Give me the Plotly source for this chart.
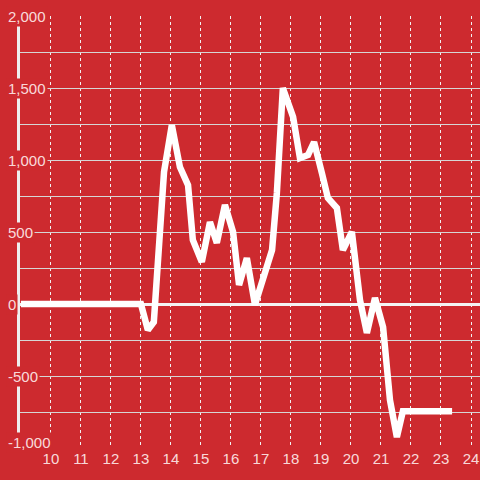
import plotly.graph_objects as go

# Data
x_vals = [9, 13.0, 13.23, 13.43, 13.77, 14.03, 14.3, 14.57, 14.73, 15.03, 15.3, 15.53,
          15.8, 16.07, 16.27, 16.53, 16.8, 17.07, 17.37, 17.53, 17.73, 18.07, 18.3,
          18.57, 18.77, 19.03, 19.23, 19.53, 19.73, 20.03, 20.3, 20.53, 20.8, 21.07,
          21.3, 21.53, 21.73, 23.37]
y_vals = [0, 0, -180, -125, 917, 1243, 951, 826, 444, 292, 569, 424,
          688, 500, 132, 319, -5, 167, 375, 771, 1500, 1299, 1014,
          1035, 1125, 910, 736, 667, 375, 500, 28, -201, 42, -160,
          -667, -924, -745, -745]

x_ticks = [10, 11, 12, 13, 14, 15, 16, 17, 18, 19, 20, 21, 22, 23, 24]
y_ticks = [-1000, -500, 0, 500, 1000, 1500, 2000]
y_tick_labels = ["-1,000", "-500", "0", "500", "1,000", "1,500", "2,000"]

BG = "#cd2a2f"
TXT = "rgba(255,240,240,0.9)"

fig = go.Figure()
fig.add_trace(go.Scatter(
    x=x_vals, y=y_vals, mode="lines",
    line=dict(color="#ffffff", width=6.5),
    hoverinfo="skip", showlegend=False,
))

annotations = []
for v, lab in zip(y_ticks, y_tick_labels):
    annotations.append(dict(
        x=-14 / 460, xref="paper", y=v, yref="y",
        text=lab, showarrow=False, xanchor="left", yanchor="middle",
        yshift=6 if v == y_ticks[0] else 0,
        font=dict(family="Liberation Sans, Arial, sans-serif", size=15, color=TXT),
        bgcolor=BG, borderpad=1,
    ))

fig.update_layout(
    width=480, height=480,
    margin=dict(l=20, r=0, t=16, b=32),
    paper_bgcolor=BG, plot_bgcolor=BG,
    font=dict(family="Liberation Sans, Arial, sans-serif", size=15, color=TXT),
    annotations=annotations,
    xaxis=dict(
        range=[8.97, 24.3], tickvals=x_ticks, ticks="",
        showgrid=True, gridcolor="#f2f2f2", griddash="dot", gridwidth=1,
        zeroline=False, showline=False, fixedrange=True,
        tickfont=dict(size=15, color=TXT),
    ),
    yaxis=dict(
        range=[-1000, 2000], dtick=250, tick0=0, showticklabels=False, ticks="",
        showgrid=True, gridcolor="#d6d6d6", gridwidth=1,
        zeroline=True, zerolinecolor="#f4f4f4", zerolinewidth=3,
        showline=True, linecolor="#eeeeee", linewidth=3, fixedrange=True,
    ),
)

fig.write_html(
    "out.html",
    config={"displayModeBar": False},
    post_script="document.body.style.margin='0';document.body.style.background='" + BG + "';",
)
